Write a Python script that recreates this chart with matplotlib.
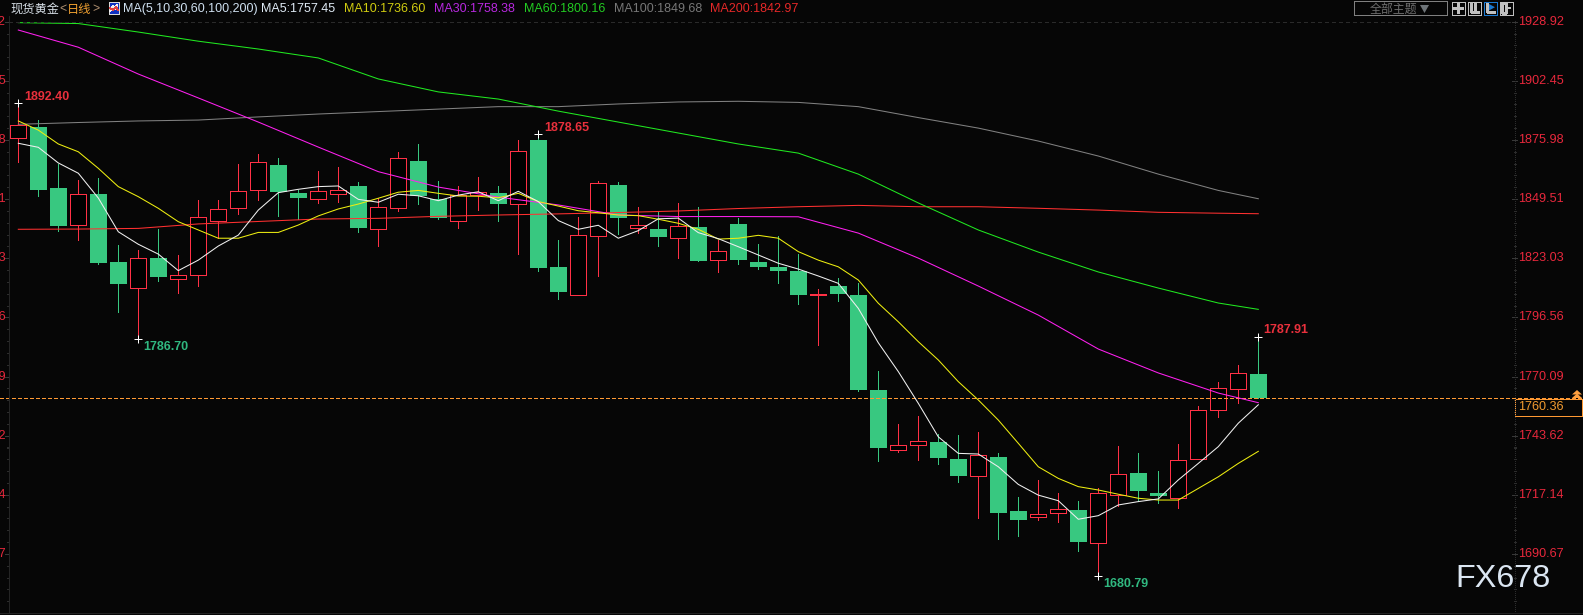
import matplotlib
matplotlib.use("Agg")
import matplotlib.pyplot as plt
from matplotlib.patches import Rectangle, Polygon
from matplotlib.lines import Line2D
from matplotlib import transforms as mt

opens = [1876.7,1881.9,1854.5,1838.0,1851.8,1821.4,1809.6,1823.0,1813.9,1815.4,1839.8,1845.7,1853.7,1864.8,1852.1,1849.6,1851.9,1855.4,1836.3,1845.7,1866.6,
         1849.4,1839.8,1851.5,1852.2,1847.4,1876.0,1819.1,1806.7,1833.1,1855.8,1836.7,1836.1,1832.2,1837.0,1822.4,1838.4,1821.4,1819.1,1817.3,1806.4,1810.6,
         1806.6,1764.0,1737.3,1739.6,1740.8,1733.2,1725.7,1734.1,1709.9,1707.3,1709.1,1710.3,1695.7,1717.2,1726.9,1717.9,1715.8,1733.3,1755.2,1764.6,1771.2]
closes = [1882.7,1853.6,1837.5,1851.7,1821.0,1811.5,1823.0,1814.8,1815.4,1841.4,1844.9,1853.0,1866.0,1852.7,1850.0,1853.0,1853.4,1836.6,1845.8,1867.8,1850.9,
          1841.0,1851.5,1852.6,1847.3,1870.9,1818.7,1807.9,1833.3,1856.6,1841.0,1837.8,1832.5,1837.3,1821.8,1826.1,1822.2,1819.1,1817.3,1806.6,1806.9,1807.0,
          1764.0,1738.1,1739.3,1741.1,1733.6,1725.6,1734.8,1709.0,1705.9,1708.4,1710.6,1696.0,1717.8,1726.3,1718.8,1716.6,1732.6,1754.9,1764.8,1771.5,1760.36]
highs = [1892.4,1885.1,1865.2,1858.1,1858.8,1828.9,1826.7,1836.1,1824.5,1849.1,1849.1,1865.2,1869.7,1867.9,1853.6,1862.1,1863.9,1857.3,1850.0,1870.6,1874.2,
         1857.6,1855.4,1859.4,1855.4,1876.0,1878.65,1831.2,1841.6,1857.6,1857.2,1845.8,1843.7,1847.6,1845.8,1831.2,1841.0,1829.4,1833.0,1824.9,1809.3,1814.2,
         1811.8,1772.6,1748.8,1752.4,1744.3,1743.9,1745.2,1735.9,1716.2,1723.8,1717.9,1714.4,1720.2,1739.0,1735.9,1727.8,1739.9,1756.9,1767.6,1775.2,1787.91]
lows = [1866.3,1851.0,1835.2,1831.2,1820.5,1799.1,1786.7,1813.0,1807.3,1810.7,1832.0,1842.8,1849.1,1841.9,1840.5,1847.9,1848.2,1834.9,1828.6,1844.3,1847.3,
        1840.6,1836.7,1844.6,1839.7,1824.9,1817.5,1804.8,1806.7,1815.2,1833.9,1834.3,1828.5,1823.3,1821.8,1816.9,1820.5,1818.2,1811.9,1802.6,1784.2,1803.9,
        1763.6,1732.3,1736.3,1732.7,1730.9,1722.9,1706.7,1697.3,1698.7,1705.9,1704.9,1692.0,1680.79,1712.1,1714.4,1713.4,1711.2,1733.3,1751.9,1758.2,1760.36]

ma5 = [1874.5,1872.7,1865.7,1861.1,1850.0,1834.9,1829.3,1824.9,1817.5,1822.2,1828.5,1833.4,1844.6,1852.4,1853.9,1855.1,1855.4,1849.4,1848.1,1851.7,1851.0,
       1848.8,1851.3,1852.8,1848.8,1853.0,1848.4,1839.9,1836.0,1837.8,1832.0,1835.4,1840.7,1841.0,1834.5,1831.8,1828.2,1824.5,1820.8,1818.2,1815.1,1811.8,
       1800.6,1785.2,1772.3,1758.1,1743.1,1735.7,1735.4,1729.7,1721.8,1717.0,1714.5,1706.2,1707.8,1712.6,1714.1,1715.3,1723.8,1731.2,1738.7,1749.2,1757.45]
ma10 = [1884.5,1880.4,1874.2,1870.7,1863.3,1855.1,1850.6,1845.4,1839.4,1835.7,1832.0,1832.0,1834.6,1834.6,1837.9,1842.0,1845.1,1847.3,1849.9,1852.6,1853.4,
        1852.1,1850.9,1850.8,1850.1,1852.1,1848.4,1846.4,1844.3,1843.4,1842.4,1842.1,1840.5,1838.7,1836.0,1831.6,1832.0,1833.3,1832.0,1826.0,1822.2,1819.2,
        1813.3,1802.9,1794.6,1785.7,1777.5,1767.8,1759.6,1750.6,1740.2,1729.7,1724.5,1720.8,1719.3,1717.4,1715.6,1714.8,1714.8,1720.0,1725.2,1731.2,1736.60]

# The slow averages are read at every third session, plus the last one
slow_idx = [0,3,6,9,12,15,18,21,24,27,30,33,36,39,42,45,48,51,54,57,60,62]
ma30 = [1925.2,1917.5,1905.5,1894.8,1884.0,1872.8,1861.8,1854.9,1850.4,1846.9,1842.4,1841.7,1841.7,1841.6,1834.3,1823.1,1810.6,1797.6,1782.4,1771.7,1762.7,1758.38]
ma60 = [1928.5,1928.1,1924.3,1920.2,1916.7,1912.7,1903.3,1897.5,1894.3,1888.9,1884.0,1879.1,1874.2,1870.1,1860.7,1847.8,1835.7,1825.8,1816.9,1809.7,1803.0,1800.16]
ma100 = [1883.0,1883.8,1884.5,1884.9,1886.3,1887.6,1888.7,1889.8,1890.9,1890.9,1892.1,1893.0,1893.3,1892.8,1890.9,1886.0,1881.3,1875.5,1868.8,1860.7,1853.4,1849.68]
ma200 = [1836.0,1836.1,1836.4,1838.4,1839.5,1840.6,1840.9,1841.8,1842.4,1842.9,1843.5,1844.2,1845.3,1846.1,1846.7,1846.1,1846.1,1845.4,1844.6,1843.6,1843.2,1842.97]

ytick_labels = ["1928.92","1902.45","1875.98","1849.51","1823.03","1796.56","1770.09","1743.62","1717.14","1690.67"]
last_price = 1760.36
title_name = "现货黄金"
title_period = "日线"
ma_params = "MA(5,10,30,60,100,200)"
ma_values = [("MA5:1757.45",261,"#dfeaf5"),("MA10:1736.60",343.6,"#d0cc10"),("MA30:1758.38",433.6,"#b828e0"),
             ("MA60:1800.16",523.6,"#22cc22"),("MA100:1849.68",614,"#777777"),("MA200:1842.97",710,"#e62828")]
extremes = [(0,1892.40,4,4.5,"#e8303c"),(26,1878.65,4,4.5,"#e8303c"),(6,1786.70,3.5,-5.8,"#30b880"),(54,1680.79,3.5,-5.8,"#30b880"),(62,1787.91,3.5,4.5,"#e8303c")]

W, H = 1583, 615
BG = "#060606"
UP = "#ff3045"
DOWN = "#38c880"
SANS = "Liberation Sans"
CJK = ["Noto Sans CJK SC", "DejaVu Sans"]

fig = plt.figure(figsize=(W/100, H/100), dpi=100, facecolor=BG)
ax = fig.add_axes([0, 0, 1, 1], facecolor=BG)
ax.set_xlim(-0.915, 78.235)
ax.set_ylim(1663.34, 1938.64)
ax.axis("off")

def fx(x): return x / W
def fy(y): return 1 - y / H
def ftext(x, y, s, **kw):
    kw.setdefault("family", SANS)
    kw.setdefault("va", "center")
    return fig.text(fx(x), fy(y), s, **kw)
def fline(xs, ys, color, lw=0.72, **kw):
    fig.add_artist(Line2D([fx(v) for v in xs], [fy(v) for v in ys], color=color, lw=lw, antialiased=False, **kw))
def frect(x0, y0, x1, y1, ec, fc="none", lw=0.72):
    fig.add_artist(Rectangle((fx(x0), fy(y1)), (x1-x0)/W, (y1-y0)/H, ec=ec, fc=fc, lw=lw, antialiased=False))

# candles
for i, (o, c, h, l) in enumerate(zip(opens, closes, highs, lows)):
    up = c > o
    col = UP if up else DOWN
    ax.plot([i, i], [l, h], color=col, lw=0.72, zorder=2, antialiased=False, solid_capstyle="butt")
    bottom, height = min(o, c), abs(c - o)
    if up:
        ax.bar(i, height, bottom=bottom, width=0.8, facecolor="#000000", edgecolor=col, linewidth=0.72, zorder=3, antialiased=False)
    else:
        ax.bar(i, height, bottom=bottom, width=0.84, facecolor=col, edgecolor=col, linewidth=0, zorder=3, antialiased=False)

# moving averages
idx = list(range(len(ma5)))
for xs, ys, col in [(slow_idx, ma200, "#ff3030"), (slow_idx, ma100, "#808080"), (slow_idx, ma60, "#20e820"),
                    (slow_idx, ma30, "#ff20f0"), (idx, ma10, "#eeee10"), (idx, ma5, "#f0f0f0")]:
    ax.plot(xs, ys, color=col, lw=0.75, zorder=5)

# extreme labels
for i, price, dx, dy, col in extremes:
    ax.plot(i, price, marker="+", ms=5.5, mew=0.72, color="white", zorder=6, clip_on=False, antialiased=False)
    ax.annotate(f"{price:.2f}", (i, price), xytext=(dx, dy), textcoords="offset points", color=col,
                family=SANS, weight="bold", fontsize=9.0, va="center", ha="left", zorder=7)

# axes furniture
trans = mt.blended_transform_factory(fig.transFigure, ax.transData)
fline([8.5, 8.5], [16, 613], "#242424")
fline([1515, 1515], [21, 613], "#2c2c2c", ls=(0, (1, 2)))
fline([0, W], [613, 613], "#222222")
fline([8.5, 1512], [21.5, 21.5], "#2a2a2a", ls=(0, (3, 3)))
ticks = [float(s) for s in ytick_labels]
step = (ticks[0] - ticks[1]) / 5
for k, t in enumerate(ticks):
    for side_x, text_x, ha in [((4.5, 8.5), 5.5, "right"), ((1512, 1517), 1518, "left")]:
        ax.add_line(Line2D([fx(side_x[0]), fx(side_x[1])], [t, t], transform=trans, color="#383838", lw=0.72, antialiased=False))
        ax.text(fx(text_x), t, ytick_labels[k], transform=trans, color="#e8283c", family=SANS, fontsize=9.1, ha=ha, va="center", clip_on=False)
    for m in range(-4, 5):
        v = t + m * step
        if 1663.34 < v <= ticks[0] and m != 0:
            for x0, x1 in [(6.5, 8.5), (1514, 1516)]:
                ax.add_line(Line2D([fx(x0), fx(x1)], [v, v], transform=trans, color="#2c2c2c", lw=0.72, antialiased=False))

# last price
ax.axhline(last_price, color="#ff9933", lw=0.72, ls=(0, (3.6, 2.8)), zorder=4, xmax=1.0, antialiased=False)
frect(1514.5, 398.5, 1581.5, 415.5, "#ff9933", BG, 0.72)
ftext(1518, 407, f"{last_price:.2f}", color="#f09a30", fontsize=9.1)
for y0 in (391, 394.5):
    fig.add_artist(Polygon([(fx(1572), fy(y0+3.5)), (fx(1582), fy(y0+3.5)), (fx(1577), fy(y0-1))], fc="#ffa040", ec="none"))

# header
ftext(10, 9, title_name, family=CJK, color="#d8e0e8", fontsize=8.8)
ftext(59, 9, "<", color="#b09070", fontsize=8.8)
ftext(67, 9, title_period, family=CJK, color="#f0a030", fontsize=8.8)
ftext(92, 9, ">", color="#b09070", fontsize=8.8)
frect(108.5, 2.5, 118.5, 13.5, "#d8d8d8", "#1030c0")
fline([110, 113, 115, 117], [11, 6, 9, 5], "#f0f0f0")
fline([110, 113, 116, 118], [8, 10, 7, 10], "#e04040")
ftext(122.7, 9, ma_params, color="#cfe0f0", fontsize=8.98)
for s, x, c in ma_values:
    ftext(x, 9, s, color=c, fontsize=8.98)

# toolbar
frect(1353.5, 0.5, 1447, 15, "#808080")
ftext(1370, 9, "全部主题", family=CJK, color="#6e6e6e", fontsize=8.6)
fig.add_artist(Polygon([(fx(1420), fy(5)), (fx(1429), fy(5)), (fx(1424.5), fy(13))], fc="#6e7478", ec="none"))
for k, x0 in enumerate((1451.5, 1467.5, 1483.5, 1499.5)):
    frect(x0, 1.5, x0+13, 14.5, "#1a78d0" if k == 2 else "#c0c0c0")
fline([1454, 1456.5], [8, 8], "#c0c0c0", 1); fline([1459.5, 1462], [8, 8], "#c0c0c0", 1)
fline([1458, 1458], [4, 6.5], "#c0c0c0", 1); fline([1458, 1458], [9.5, 12], "#c0c0c0", 1)
fline([1471, 1471, 1478], [3.5, 12, 12], "#c0c0c0", 1); fline([1475, 1475], [4, 10], "#c0c0c0", 1)
fline([1487, 1487, 1494], [3.5, 12, 12], "#c0c0c0", 1)
fig.add_artist(Polygon([(fx(1489), fy(4)), (fx(1489), fy(10.5)), (fx(1495), fy(7.2))], fc="#1a78d0", ec="none"))
frect(1502, 3.5, 1505.5, 12.5, "#c0c0c0", "none", 1)
fline([1506, 1510], [8, 8], "#c0c0c0", 1.2)

# watermark
ftext(1455, 579, "FX678", color="#dbe6f2", fontsize=23.3)

fig.savefig("out.png", dpi=100, facecolor=BG)
